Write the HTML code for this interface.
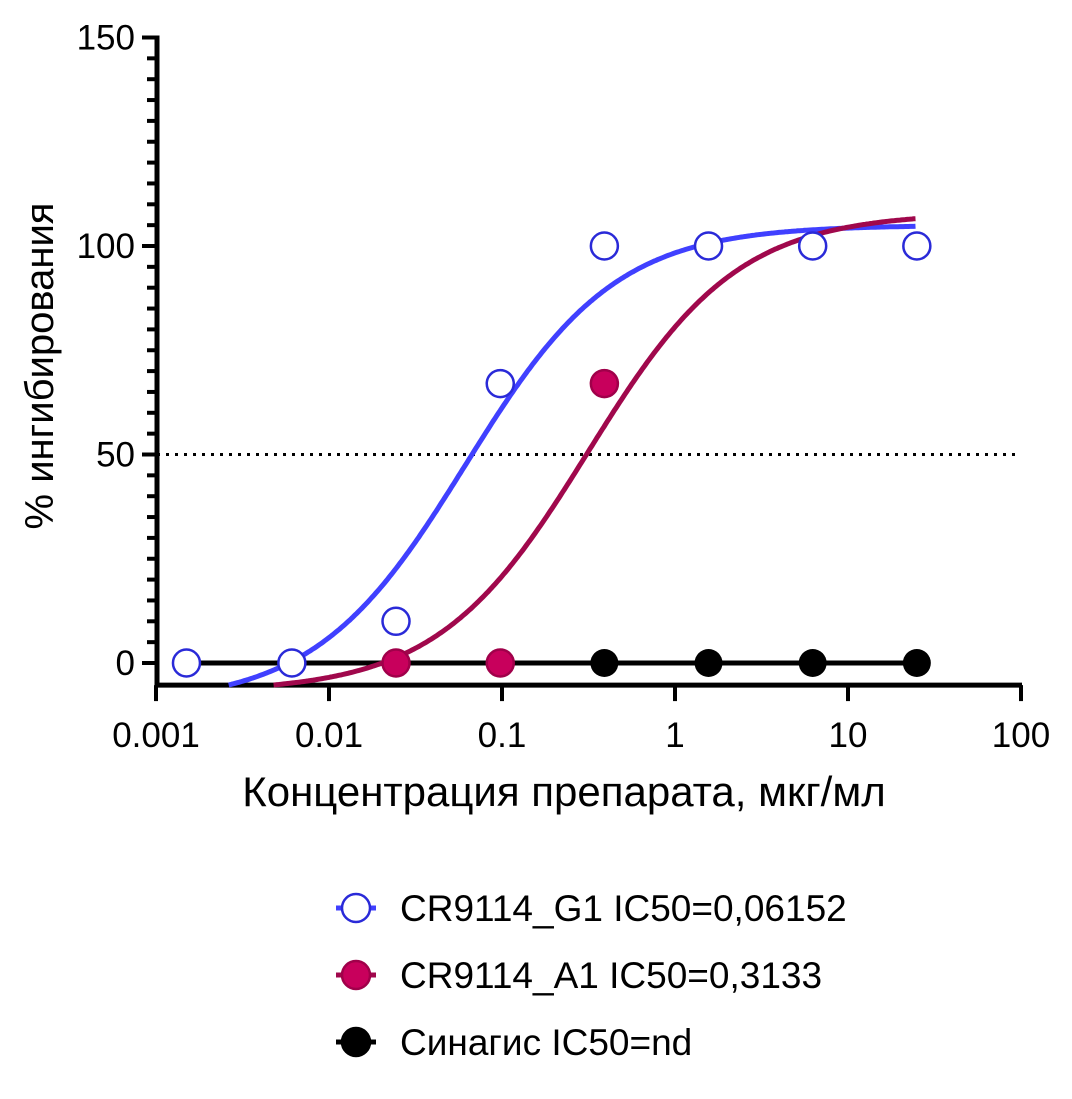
<!DOCTYPE html>
<html><head><meta charset="utf-8"><style>
body{margin:0;background:#fff;}
svg text{font-family:"Liberation Sans","DejaVu Sans",sans-serif;}
</style></head><body>
<svg id="c" width="1072" height="1094" xmlns="http://www.w3.org/2000/svg"></svg>
<script>
const concs=[0.0015,0.0061,0.0244,0.0977,0.3906,1.5625,6.25,25];
const blueVals=[0,0,10,67,100,100,100,100];
const redVals=[null,null,0,0,67,null,null,null];
const blackVals=[0,0,0,0,0,0,0,0];
const yTicks=[0,50,100,150];
const xTicks=[0.001,0.01,0.1,1,10,100];
const xTickLabels=["0.001","0.01","0.1","1","10","100"];
const blueFit={bottom:-10,top:105,ic50:0.0615,hill:1.0};
const redFit={bottom:-7,top:108,ic50:0.3133,hill:1.0};

const NS="http://www.w3.org/2000/svg";
const svg=document.getElementById('c');
const X=v=>156+(Math.log10(v)+3)*173;
const Y=v=>663-v*4.17;
const yMin=-5.3;
function el(t,a,p){const e=document.createElementNS(NS,t);for(const k in a)e.setAttribute(k,a[k]);(p||svg).appendChild(e);return e;}

let d=el('line',{x1:157,x2:1015,y1:Y(50),y2:Y(50),stroke:'#000','stroke-width':3,'stroke-dasharray':'3 6'});



let ya=el('line',{x1:157,x2:157,y1:Y(150)-2,y2:Y(yMin),stroke:'#000','stroke-width':5});


for(let v=0;v<=150;v+=5){
  const major=yTicks.includes(v);
  const t=el('line',{x1:major?142:147,x2:157,y1:Y(v),y2:Y(v),stroke:'#000','stroke-width':4});
  
  
}
yTicks.forEach(v=>{
  const t=el('text',{x:135,y:Y(v)+12,'text-anchor':'end','font-size':35});
  t.textContent=v;
  
  
});
let xa=el('line',{x1:155,x2:1022,y1:Y(yMin),y2:Y(yMin),stroke:'#000','stroke-width':5});


xTicks.forEach((v,i)=>{
  const t=el('line',{x1:X(v),x2:X(v),y1:Y(yMin),y2:Y(yMin)+16,stroke:'#000','stroke-width':4});
  
  
  const l=el('text',{x:X(v),y:747,'text-anchor':'middle','font-size':35});
  l.textContent=xTickLabels[i];
  
  
});
let xt=el('text',{x:564,y:806,'text-anchor':'middle','font-size':42});
xt.textContent='Концентрация препарата, мкг/мл';


let yt=el('text',{x:0,y:0,'text-anchor':'middle','font-size':40,transform:'translate(53,366) rotate(-90)'});
yt.textContent='% ингибирования';



let bl=el('line',{x1:X(concs[0]),x2:X(concs[7]),y1:Y(0),y2:Y(0),stroke:'#000','stroke-width':5});



function curve(f,color,name){
  let pts=[];
  for(let lx=-3;lx<=Math.log10(25)+0.0001;lx+=0.01){
    const x=Math.pow(10,lx);
    const y=f.bottom+(f.top-f.bottom)/(1+Math.pow(f.ic50/x,f.hill));
    if(y<yMin)continue;
    pts.push(X(x).toFixed(1)+','+Y(y).toFixed(1));
  }
  const p=el('polyline',{points:pts.join(' '),fill:'none',stroke:color,'stroke-width':5});
  
  
}
curve(blueFit,'#4040ff','cr9114-g1-fit-curve');
curve(redFit,'#a0084c','cr9114-a1-fit-curve');

blackVals.forEach((v,i)=>{
  const c=el('circle',{cx:X(concs[i]),cy:Y(v),r:14,fill:'#000'});
  
  
});
redVals.forEach((v,i)=>{
  if(v===null)return;
  const c=el('circle',{cx:X(concs[i]),cy:Y(v),r:13.5,fill:'#c8005c',stroke:'#a0004a','stroke-width':2.5});
  
  
});
blueVals.forEach((v,i)=>{
  const c=el('circle',{cx:X(concs[i]),cy:Y(v),r:13.5,fill:'#fff',stroke:'#2a2ad8','stroke-width':2.5});
  
  
});

const legend=[
 {y:908,label:'CR9114_G1 IC50=0,06152',line:'#4040ff',fill:'#fff',stroke:'#2a2ad8',name:'legend-cr9114-g1'},
 {y:975,label:'CR9114_A1 IC50=0,3133',line:'#a0084c',fill:'#c8005c',stroke:'#a0004a',name:'legend-cr9114-a1'},
 {y:1042,label:'Синагис IC50=nd',line:'#000',fill:'#000',stroke:'#000',name:'legend-sinagis'}
];
legend.forEach(L=>{
  const g=el('g',{});
  
  
  el('line',{x1:336,x2:376,y1:L.y,y2:L.y,stroke:L.line,'stroke-width':5},g);
  el('circle',{cx:356,cy:L.y,r:14,fill:L.fill,stroke:L.stroke,'stroke-width':2.5},g);
  const t=el('text',{x:400,y:L.y+13,'font-size':37},g);
  t.textContent=L.label;
});
</script>
</body></html>
